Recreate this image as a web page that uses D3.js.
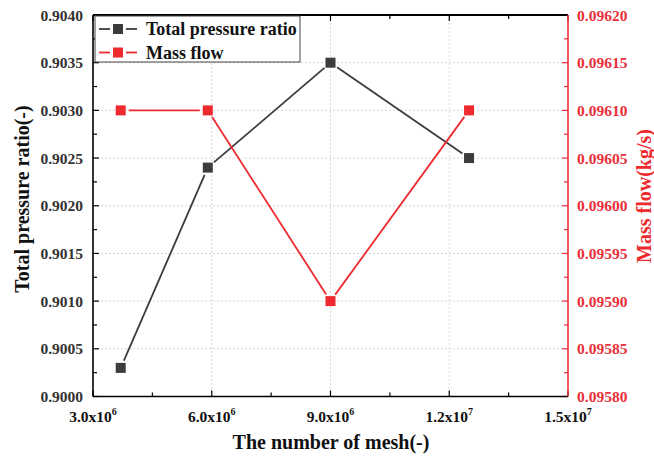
<!DOCTYPE html>
<html>
<head>
<meta charset="utf-8">
<script src="https://cdn.jsdelivr.net/npm/d3@7/dist/d3.min.js"></script>
<style>
  body { margin: 0; background: #fff; }
  text { font-family: "Liberation Serif", "Times New Roman", serif; font-weight: bold; }
</style>
</head>
<body>
<svg id="chart" width="654" height="459"></svg>
<script>
// Mesh independence study: pressure ratio and mass flow vs. mesh count
const meshCounts = [3.7e6, 5.9e6, 9.0e6, 12.5e6];
const pressureRatio = [0.9003, 0.9024, 0.9035, 0.9025];
const massFlow = [0.0961, 0.0961, 0.0959, 0.0961];

const xTicks = [3e6, 6e6, 9e6, 12e6, 15e6];
const xTickMantissa = ["3.0x10", "6.0x10", "9.0x10", "1.2x10", "1.5x10"];
const xTickExponent = ["6", "6", "6", "7", "7"];
const leftTicks = [0.9000, 0.9005, 0.9010, 0.9015, 0.9020, 0.9025, 0.9030, 0.9035, 0.9040];
const rightTicks = [0.09580, 0.09585, 0.09590, 0.09595, 0.09600, 0.09605, 0.09610, 0.09615, 0.09620];

const seriesNames = ["Total pressure ratio", "Mass flow"];
const GRAY = "#3c3c3c", RED = "#ee2a2f", RED_AXIS = "#e8303a";

const L = 93, R = 568, T = 15, B = 396.5;
const svg = d3.select("#chart");

const x = d3.scaleLinear().domain([3e6, 15e6]).range([L, R]);
const yL = d3.scaleLinear().domain([0.9000, 0.9040]).range([B, T]);
const yR = d3.scaleLinear().domain([0.09580, 0.09620]).range([B, T]);

// grid
const grid = svg.append("g").attr("stroke", "#d6d6d6").attr("stroke-width", 1).attr("stroke-dasharray", "2,2");
xTicks.slice(1, -1).forEach(v => grid.append("line").attr("x1", x(v)).attr("x2", x(v)).attr("y1", T).attr("y2", B));
leftTicks.slice(1, -1).forEach(v => grid.append("line").attr("x1", L).attr("x2", R).attr("y1", yL(v)).attr("y2", yL(v)));

// ticks (inward), one minor between majors
function midpoints(arr) { return arr.slice(0, -1).map((v, i) => (v + arr[i + 1]) / 2); }
const tk = svg.append("g").attr("stroke-width", 1.2);
xTicks.forEach(v => {
  tk.append("line").attr("x1", x(v)).attr("x2", x(v)).attr("y1", B).attr("y2", B - 6).attr("stroke", "#000");
  tk.append("line").attr("x1", x(v)).attr("x2", x(v)).attr("y1", T).attr("y2", T + 6).attr("stroke", "#000");
});
midpoints(xTicks).forEach(v => {
  tk.append("line").attr("x1", x(v)).attr("x2", x(v)).attr("y1", B).attr("y2", B - 4).attr("stroke", "#000");
  tk.append("line").attr("x1", x(v)).attr("x2", x(v)).attr("y1", T).attr("y2", T + 4).attr("stroke", "#000");
});
leftTicks.forEach(v => tk.append("line").attr("x1", L).attr("x2", L + 6).attr("y1", yL(v)).attr("y2", yL(v)).attr("stroke", "#000"));
midpoints(leftTicks).forEach(v => tk.append("line").attr("x1", L).attr("x2", L + 4).attr("y1", yL(v)).attr("y2", yL(v)).attr("stroke", "#000"));
rightTicks.forEach(v => tk.append("line").attr("x1", R).attr("x2", R - 6).attr("y1", yR(v)).attr("y2", yR(v)).attr("stroke", RED_AXIS));
midpoints(rightTicks).forEach(v => tk.append("line").attr("x1", R).attr("x2", R - 4).attr("y1", yR(v)).attr("y2", yR(v)).attr("stroke", RED_AXIS));

// frame
svg.append("line").attr("x1", L).attr("x2", R).attr("y1", B).attr("y2", B).attr("stroke", "#000").attr("stroke-width", 1.6);
svg.append("line").attr("x1", L).attr("x2", R).attr("y1", T).attr("y2", T).attr("stroke", "#000").attr("stroke-width", 1.8);
svg.append("line").attr("x1", L).attr("x2", L).attr("y1", T).attr("y2", B).attr("stroke", "#000").attr("stroke-width", 1.6);
svg.append("line").attr("x1", R).attr("x2", R).attr("y1", T).attr("y2", B).attr("stroke", RED_AXIS).attr("stroke-width", 1.6);

// tick labels
const lbl = svg.append("g").attr("font-size", 15.5);
leftTicks.forEach(v => lbl.append("text").attr("x", L - 10).attr("y", yL(v) + 5.5).attr("text-anchor", "end").attr("fill", "#333").text(v.toFixed(4)));
rightTicks.forEach(v => lbl.append("text").attr("x", R + 9).attr("y", yR(v) + 5.5).attr("fill", RED_AXIS).text(v.toFixed(5)));
xTicks.forEach((v, i) => {
  const t = lbl.append("text").attr("x", x(v)).attr("y", 422).attr("text-anchor", "middle").attr("fill", "#111");
  t.append("tspan").text(xTickMantissa[i]);
  t.append("tspan").attr("dy", -7).attr("font-size", 10).text(xTickExponent[i]);
});

// axis titles
svg.append("text").attr("transform", "translate(29,199) rotate(-90)").attr("text-anchor", "middle")
  .attr("font-size", 20).attr("fill", "#111").text("Total pressure ratio(-)");
svg.append("text").attr("transform", "translate(651,196) rotate(-90)").attr("text-anchor", "middle")
  .attr("font-size", 20).attr("fill", RED).text("Mass flow(kg/s)");
svg.append("text").attr("x", 331).attr("y", 449).attr("text-anchor", "middle")
  .attr("font-size", 20).attr("fill", "#111").text("The number of mesh(-)");

// series: line segments stop short of the markers
function drawSeries(values, yScale, color) {
  const pts = meshCounts.map((m, i) => [x(m), yScale(values[i])]);
  const g = svg.append("g");
  const gap = 8;
  for (let i = 0; i < pts.length - 1; i++) {
    const [x1, y1] = pts[i], [x2, y2] = pts[i + 1];
    const len = Math.hypot(x2 - x1, y2 - y1), ux = (x2 - x1) / len, uy = (y2 - y1) / len;
    g.append("line").attr("x1", x1 + ux * gap).attr("y1", y1 + uy * gap)
      .attr("x2", x2 - ux * gap).attr("y2", y2 - uy * gap)
      .attr("stroke", color).attr("stroke-width", 1.8);
  }
  g.selectAll("rect").data(pts).join("rect")
    .attr("x", d => d[0] - 5).attr("y", d => d[1] - 5).attr("width", 10).attr("height", 10)
    .attr("fill", color);
}
drawSeries(pressureRatio, yL, GRAY);
drawSeries(massFlow, yR, RED);

// legend
const lg = svg.append("g");
lg.append("rect").attr("x", 95).attr("y", 16).attr("width", 205).attr("height", 46)
  .attr("fill", "#fff").attr("stroke", "#444").attr("stroke-width", 1);
[GRAY, RED].forEach((c, i) => {
  const cy = 29 + i * 23.5;
  lg.append("line").attr("x1", 99).attr("x2", 110).attr("y1", cy).attr("y2", cy).attr("stroke", c).attr("stroke-width", 1.8);
  lg.append("line").attr("x1", 126).attr("x2", 137).attr("y1", cy).attr("y2", cy).attr("stroke", c).attr("stroke-width", 1.8);
  lg.append("rect").attr("x", 113).attr("y", cy - 5).attr("width", 10).attr("height", 10).attr("fill", c);
  lg.append("text").attr("x", 146).attr("y", cy + 6).attr("font-size", 18).attr("fill", "#111").text(seriesNames[i]);
});
</script>
</body>
</html>
